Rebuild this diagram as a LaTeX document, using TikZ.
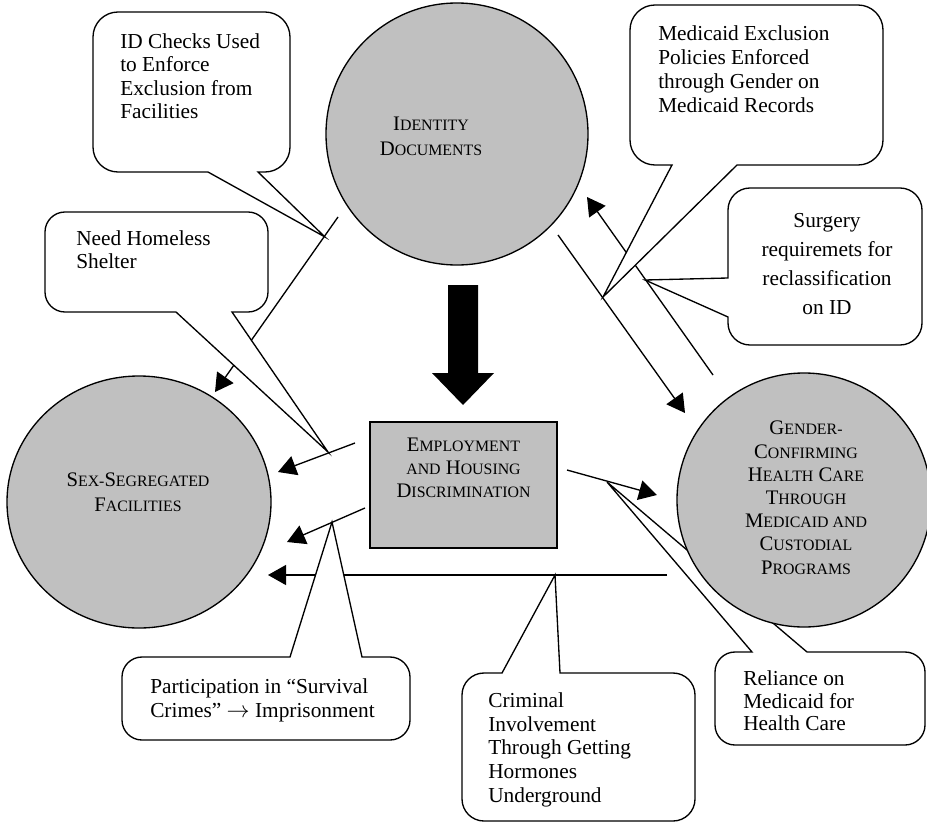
\documentclass[tikz,border=0pt]{standalone}
\usepackage{fontspec}
\setmainfont{Liberation Serif}
\usetikzlibrary{arrows.meta}
\definecolor{circgray}{RGB}{192,192,192}
\newcommand\SC[2]{#1{\fontsize{11.9pt}{18pt}\selectfont #2}}
\tikzset{
  callout/.style={draw=black, fill=white, line width=1pt, line join=miter},
  arr/.style={draw=black, line width=1pt, -{Triangle[length=13.5pt,width=15pt]}},
  circ/.style={draw=black, fill=circgray, line width=1pt},
  ctext/.style={inner sep=0pt, align=left, anchor=north west},
  htext/.style={inner sep=0pt, align=center, anchor=north}
}
% x1 y1 x2 y2 r a b tipx tipy
\newcommand\CallBottom[9]{%
\pgfmathsetmacro\ro{0.552*#5}%
\filldraw[callout] ({#1+#5},#2) -- ({#3-#5},#2) .. controls ({#3-#5+\ro},#2) and (#3,{#2+#5-\ro}) .. (#3,{#2+#5})
 -- (#3,{#4-#5}) .. controls (#3,{#4-#5+\ro}) and ({#3-#5+\ro},#4) .. ({#3-#5},#4)
 -- (#7,#4) -- (#8,#9) -- (#6,#4)
 -- ({#1+#5},#4) .. controls ({#1+#5-\ro},#4) and (#1,{#4-#5+\ro}) .. (#1,{#4-#5})
 -- (#1,{#2+#5}) .. controls (#1,{#2+#5-\ro}) and ({#1+#5-\ro},#2) .. ({#1+#5},#2) -- cycle;}
\newcommand\CallTop[9]{%
\pgfmathsetmacro\ro{0.552*#5}%
\filldraw[callout] ({#1+#5},#2) -- (#6,#2) -- (#8,#9) -- (#7,#2)
 -- ({#3-#5},#2) .. controls ({#3-#5+\ro},#2) and (#3,{#2+#5-\ro}) .. (#3,{#2+#5})
 -- (#3,{#4-#5}) .. controls (#3,{#4-#5+\ro}) and ({#3-#5+\ro},#4) .. ({#3-#5},#4)
 -- ({#1+#5},#4) .. controls ({#1+#5-\ro},#4) and (#1,{#4-#5+\ro}) .. (#1,{#4-#5})
 -- (#1,{#2+#5}) .. controls (#1,{#2+#5-\ro}) and ({#1+#5-\ro},#2) .. ({#1+#5},#2) -- cycle;}
\newcommand\CallLeft[9]{%
\pgfmathsetmacro\ro{0.552*#5}%
\filldraw[callout] ({#1+#5},#2) -- ({#3-#5},#2) .. controls ({#3-#5+\ro},#2) and (#3,{#2+#5-\ro}) .. (#3,{#2+#5})
 -- (#3,{#4-#5}) .. controls (#3,{#4-#5+\ro}) and ({#3-#5+\ro},#4) .. ({#3-#5},#4)
 -- ({#1+#5},#4) .. controls ({#1+#5-\ro},#4) and (#1,{#4-#5+\ro}) .. (#1,{#4-#5})
 -- (#1,#7) -- (#8,#9) -- (#1,#6)
 -- (#1,{#2+#5}) .. controls (#1,{#2+#5-\ro}) and ({#1+#5-\ro},#2) .. ({#1+#5},#2) -- cycle;}
\begin{document}
\begin{tikzpicture}[x=0.75pt,y=-0.75pt]
\useasboundingbox (0,0) rectangle (927,824);
% arrow end points
\coordinate (a1s) at (338,217); \coordinate (a1e) at (215,392);
\coordinate (a2s) at (355,443); \coordinate (a2e) at (278,472);
\coordinate (a3s) at (365,508); \coordinate (a3e) at (287,542);
\coordinate (a4s) at (667,575); \coordinate (a4e) at (268,575);
\coordinate (a5s) at (567,470); \coordinate (a5e) at (657,495);
\coordinate (a6s) at (558,235); \coordinate (a6e) at (685,413);
\coordinate (a7s) at (713,375); \coordinate (a7e) at (587,197);
\draw[arr] (a1s) -- (a1e);
\draw[arr] (a2s) -- (a2e);
\draw[arr] (a3s) -- (a3e);
\draw[arr] (a4s) -- (a4e);
\draw[arr] (a5s) -- (a5e);
\draw[arr] (a6s) -- (a6e);
\draw[arr] (a7s) -- (a7e);
% callouts
\CallBottom{93}{12}{290}{172}{25}{208}{258}{325}{237}
\CallBottom{45}{212}{268}{312}{20}{176}{232}{328}{452}
\CallBottom{630}{5}{883}{165}{25}{672}{737}{603}{297}
\CallLeft{728}{188}{922}{345}{22}{278}{317}{645}{280}
\CallTop{122}{657}{410}{740}{20}{290}{362}{332}{522}
\CallTop{462}{673}{695}{821}{22}{502}{560}{555}{575}
\CallTop{715}{652}{925}{745}{20}{752}{807}{607}{482}
% circles and box
\draw[circ] (457,134) circle[radius=131];
\draw[circ] (139,502) ellipse[x radius=132, y radius=126];
\draw[circ] (804,500) circle[radius=127];
\draw[circ] (370,422) rectangle (557,548);
% big arrow
\fill[black] (448,285) -- (478,285) -- (478,373) -- (494,373) -- (463,405) -- (432,373) -- (448,373) -- cycle;
% heading texts
\node[htext, font=\fontsize{15.5pt}{18.75pt}\selectfont] (tID) at (431,117) {\SC{I}{DENTITY}\\\SC{D}{OCUMENTS}};
\node[htext, font=\fontsize{15.5pt}{18.75pt}\selectfont] (tSS) at (138,473) {\SC{S}{EX-}\SC{S}{EGREGATED}\\\SC{F}{ACILITIES}};
\node[htext, font=\fontsize{15.5pt}{17.25pt}\selectfont] (tEH) at (463.5,438) {\SC{E}{MPLOYMENT}\\\SC{}{AND} \SC{H}{OUSING}\\\SC{D}{ISCRIMINATION}};
\node[htext, font=\fontsize{15.5pt}{17.4pt}\selectfont] (tGC) at (806,421) {\SC{G}{ENDER-}\\\SC{C}{ONFIRMING}\\\SC{H}{EALTH} \SC{C}{ARE}\\\SC{T}{HROUGH}\\\SC{M}{EDICAID AND}\\\SC{C}{USTODIAL}\\\SC{P}{ROGRAMS}};
% callout texts
\node[ctext, font=\fontsize{16pt}{17.6pt}\selectfont] (cA) at (120,33.4) {ID Checks Used\\to Enforce\\Exclusion from\\Facilities};
\node[ctext, font=\fontsize{16pt}{17.25pt}\selectfont] (cB) at (76,230.4) {Need Homeless\\Shelter};
\node[ctext, font=\fontsize{16pt}{18pt}\selectfont] (cC) at (658,25.4) {Medicaid Exclusion\\Policies Enforced\\through Gender on\\Medicaid Records};
\node[htext, font=\fontsize{16pt}{21.75pt}\selectfont] (cD) at (827,213.6) {Surgery\\requiremets for\\reclassification\\on ID};
\node[ctext, font=\fontsize{16pt}{18pt}\selectfont] (cE) at (150,678.4) {Participation in “Survival\\Crimes” $\rightarrow$ Imprisonment};
\node[ctext, font=\fontsize{16pt}{17.8pt}\selectfont] (cF) at (488,692.4) {Criminal\\Involvement\\Through Getting\\Hormones\\Underground};
\node[ctext, font=\fontsize{16pt}{16.9pt}\selectfont] (cG) at (743,670.4) {Reliance on\\Medicaid for\\Health Care};
\end{tikzpicture}
\end{document}
